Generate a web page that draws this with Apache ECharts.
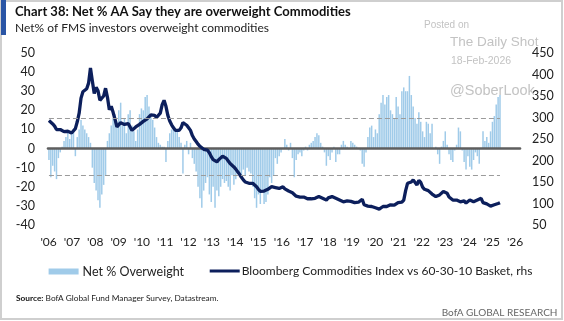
<!DOCTYPE html>
<html><head><meta charset="utf-8">
<script src="https://cdn.jsdelivr.net/npm/echarts@6/dist/echarts.min.js"></script>
<style>html,body{margin:0;padding:0;background:#fff}#c{width:564px;height:321px}</style>
</head><body><div id="c"></div>
<script>
// ---- tick labels ----
const yearLabels = ["'06","'07","'08","'09","'10","'11","'12","'13","'14","'15","'16","'17","'18","'19","'20","'21","'22","'23","'24","'25","'26"];
const firstLabelYear = 2006;
const lastLabelYear = 2026;
// ---- series names ----
const barName = 'Net % Overweight';
const lineName = 'Bloomberg Commodities Index vs 60-30-10 Basket, rhs';
// ---- monthly net % of FMS investors overweight commodities (lhs) ----
const netOverweight = [
 -6,-15,-9,-12,-16,-5,-2,1,4,6,9,5,
 8,10,-4,6,10,15,12,10,8,6,3,-10,
 -18,-22,-27,-31,-24,-19,-14,4,8,12,16,18,
 14,20,24,12,16,8,18,20,12,9,4,10,
 18,21,20,27,28,22,18,15,11,6,3,2,
 1,1,-7,4,8,10,11,10,9,6,3,-13,
 2,4,-3,3,-5,-8,-12,-20,-26,-31,-22,-18,
 -15,-24,-28,-20,-31,-22,-25,-20,-16,-18,-17,-20,
 -22,-14,-19,-16,-12,-13,-15,-11,-14,-10,-12,-13,
 -20,-26,-31,-24,-29,-22,-29,-28,-24,-15,-18,-14,
 -5,-8,-4,-2,0,5,2,-1,3,-5,-15,-6,
 -3,-2,-4,-1,1,-1,2,3,4,6,8,7,
 3,1,-2,-9,-4,-6,-2,1,-7,-3,-3,2,
 4,2,1,0,4,3,2,1,0,-1,-8,-9.5,
 -2,6,11,12,6,10,8,18,24,28,23,27,
 28,20,18,16,27,22,18,30,32,30,30,38,
 28,22,16,13,19,14,9,6,14,13,8,13,
 0,1,-3,-8,1,4,9,2,-3,-6,-7,-1,
 2,11,9,-1,-7,-11,-4,-9.5,-11,-6,-2,-4,
 -8,0,9,4,6,3,9,14,17,23,27,28
];
// ---- Bloomberg Commodities Index vs 60-30-10 basket (rhs) ----
const bcomRatio = [
 293,295,285,280,272,276,272,270,267,266,268,270,
 264,266,274,290,310,345,360,360,367,380,415,385,
 356,370,362,340,340,350,368,347,318,326,312,296,
 278,280,288,290,284,282,286,278,270,274,278,280,
 284,288,291,293,297,301,306,308,305,300,297,310,
 330,340,326,305,292,283,276,270,267,270,276,288,
 286,282,276,270,258,250,244,238,233,229,226,227,
 224,218,209,202,199,197,202,205,210,209,205,199,
 193,189,185,180,174,168,161,155,150,147,147,147,
 147,144,139,133,128,128,129,131,133,135,139,143,
 137,135,135,137,139,134,131,129,128,125,121,117,
 116,115,115,115,113,111,110,111,112,112,113,116,
 114,112,110,108,113,117,116,115,112,110,108,106,
 104,105,106,105,105,103,102,101,103,104,110,97,
 93,94,94,93,93,90,89,87,89,93,93,93,
 96,97,95,96,99,102,104,103,108,130,147,143,
 150,155,158,143,154,149,138,133,131,130,128,122,
 119,116,118,120,124,128,125,124,115,111,108,108,
 108,105,104,107,106,101,104,108,106,104,106,108,
 110,112,102,100,99,96,94,96,97,99,100,102
];
// dashed reference levels on lhs
const bandLevels = [16, -14];

const FONT = "Lato, 'Noto Sans', sans-serif";
const WM = "'Liberation Sans', Arial, sans-serif";
const lastIdx = netOverweight.length - 1;

const chart = echarts.init(document.getElementById('c'), null, {renderer: 'canvas'});
chart.setOption({
  animation: false,
  backgroundColor: '#ffffff',
  textStyle: {fontFamily: FONT},
  grid: [
    {left: 48, right: 44, top: 53, bottom: 96, outerBoundsMode: 'none', containLabel: false},
    {left: 48.6, right: 564 - 515.1, top: 53, bottom: 96, outerBoundsMode: 'none', containLabel: false}
  ],
  xAxis: [
    {gridIndex: 0, type: 'value', min: -0.5, max: 249.6, z: 3,
     axisLine: {show: true, onZero: true, onZeroAxisIndex: 0, lineStyle: {color: '#5e5e5e', width: 2.6}},
     axisTick: {show: false}, axisLabel: {show: false}, splitLine: {show: false}},
    {gridIndex: 1, type: 'value', min: firstLabelYear, max: lastLabelYear, interval: 1, position: 'bottom',
     axisLine: {show: false, onZero: false}, axisTick: {show: false}, splitLine: {show: false},
     axisLabel: {show: true, margin: 11, fontSize: 12, color: '#222', fontFamily: FONT,
       formatter: v => yearLabels[Math.round(v) - firstLabelYear] || ''}}
  ],
  yAxis: [
    {gridIndex: 0, type: 'value', position: 'left', min: -40, max: 50, interval: 10,
     axisLine: {show: false}, axisTick: {show: false}, splitLine: {show: false},
     axisLabel: {margin: 13, fontSize: 12.5, color: '#222', fontFamily: FONT}},
    {gridIndex: 0, type: 'value', position: 'right', min: 50, max: 450, interval: 50,
     axisLine: {show: false}, axisTick: {show: false}, splitLine: {show: false},
     axisLabel: {margin: 12, fontSize: 12.5, color: '#222', fontFamily: FONT}},
    {gridIndex: 1, type: 'value', show: false, min: 0, max: 1}
  ],
  legend: [
    {left: 48.6, top: 265, itemWidth: 30, itemHeight: 6, itemGap: 0, padding: 0,
     textStyle: {fontSize: 12.5, color: '#222', fontFamily: FONT, padding: [0, 0, 0, -1]},
     data: [{name: barName, icon: 'rect'}]},
    {left: 209.7, top: 265, itemWidth: 30, itemHeight: 3, itemGap: 0, padding: 0,
     textStyle: {fontSize: 12, color: '#222', fontFamily: FONT, padding: [0, 0, 0, -3]},
     data: [{name: lineName, icon: 'rect'}]}
  ],
  series: [
    {name: barName, type: 'bar', xAxisIndex: 0, yAxisIndex: 0, barWidth: 1.5, z: 2,
     itemStyle: {color: '#a0cbe9'},
     data: netOverweight.map((v, i) => [i, v]),
     markLine: {silent: true, symbol: 'none', label: {show: false},
       lineStyle: {type: [5, 3], color: '#9b9b9b', width: 1},
       data: bandLevels.map(v => [{coord: [0, v]}, {coord: [lastIdx, v]}])}},
    {name: lineName, type: 'line', xAxisIndex: 0, yAxisIndex: 1, z: 4,
     symbol: 'none', showSymbol: false,
     lineStyle: {color: '#0c1f5c', width: 3.3}, itemStyle: {color: '#0c1f5c'},
     data: bcomRatio.map((v, i) => [i, v])}
  ],
  graphic: [
    {type: 'rect', shape: {x: 1, y: 1, width: 561, height: 318}, style: {fill: 'none', stroke: '#cfcfcf', lineWidth: 2}, silent: true},
    {type: 'rect', shape: {x: 1, y: 0, width: 5, height: 35}, style: {fill: '#2a55a5'}, silent: true},
    {type: 'text', style: {x: 15, y: 12, text: 'Chart 38: Net % AA Say they are overweight Commodities', font: 'bold 13px ' + FONT, fill: '#111', textVerticalAlign: 'middle'}},
    {type: 'text', style: {x: 15, y: 28, text: 'Net% of FMS investors overweight commodities', font: '12px ' + FONT, fill: '#222', textVerticalAlign: 'middle'}},
    {type: 'text', style: {x: 424, y: 25.5, text: 'Posted on', font: '10px ' + WM, fill: '#c3c3c3', textVerticalAlign: 'middle'}},
    {type: 'text', style: {x: 450, y: 42, text: 'The Daily Shot', font: '13.5px ' + WM, fill: '#c3c3c3', textVerticalAlign: 'middle'}},
    {type: 'text', style: {x: 451, y: 61, text: '18-Feb-2026', font: '10.5px ' + WM, fill: '#c3c3c3', textVerticalAlign: 'middle'}},
    {type: 'text', style: {x: 450, y: 90.5, text: '@SoberLook', font: '14.5px ' + WM, fill: '#c3c3c3', textVerticalAlign: 'middle'}},
    {type: 'text', style: {x: 16, y: 298.5, text: '{b|Source:} BofA Global Fund Manager Survey, Datastream.', font: '8.3px ' + FONT, fill: '#222', textVerticalAlign: 'middle',
      rich: {b: {fontWeight: 'bold', fontSize: 8.3, fontFamily: FONT, fill: '#111'}}}},
    {type: 'text', style: {x: 557.5, y: 312.5, text: 'BofA GLOBAL RESEARCH', font: '10px ' + FONT, fill: '#666', textAlign: 'right', textVerticalAlign: 'middle'}}
  ]
});
</script>
</body></html>
